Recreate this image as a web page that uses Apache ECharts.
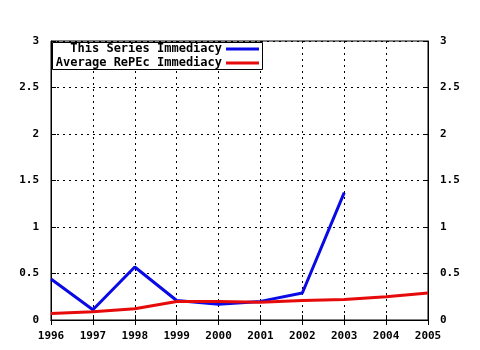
<!DOCTYPE html>
<html><head><meta charset="utf-8">
<script src="https://cdn.jsdelivr.net/npm/echarts@6/dist/echarts.min.js"></script>
<style>html,body{margin:0;padding:0;background:#fff}#c{width:480px;height:350px}</style>
</head><body><div id="c"></div>
<script>
var years = ['1996','1997','1998','1999','2000','2001','2002','2003','2004','2005'];
var seriesImmediacy = [0.44, 0.11, 0.57, 0.21, 0.17, 0.20, 0.29, 1.37, null, null];
var repecImmediacy = [0.07, 0.09, 0.12, 0.20, 0.20, 0.19, 0.21, 0.22, 0.25, 0.29];
var seriesNames = ['This Series Immediacy', 'Average RePEc Immediacy'];
var yTicks = ['0','0.5','1','1.5','2','2.5','3'];

var FONT = 'DejaVu Sans Mono';
var BLUE = '#0a0ae6', RED = '#e60a0a';
var chart = echarts.init(document.getElementById('c'));
var yLabel = function(v){ var s = String(Math.round(v*10)/10); return yTicks.indexOf(s) >= 0 ? s : ''; };
var axisCommon = {
  axisLine: {show: true, lineStyle: {color: '#000', width: 1}},
  axisTick: {show: true, inside: true, length: 5, lineStyle: {color: '#000'}},
  splitLine: {show: false}
};
chart.setOption({
  animation: false,
  backgroundColor: '#fff',
  grid: {left: 51, right: 52, top: 41, bottom: 30, show: true, borderColor: '#000', borderWidth: 1},
  xAxis: [
    Object.assign({type: 'category', data: years, boundaryGap: false, position: 'bottom',
      axisLabel: {color: '#000', fontFamily: FONT, fontWeight: 'bold', fontSize: 11, margin: 11, interval: 0},
      splitLine: {show: true, lineStyle: {color: '#000', type: [2, 4], width: 1}}
    }, {axisLine: axisCommon.axisLine, axisTick: {show: true, inside: true, length: 5, interval: 0, lineStyle: {color: '#000'}}}),
    {type: 'category', data: years, boundaryGap: false, position: 'top',
      axisLine: {show: true, lineStyle: {color: '#000'}},
      axisTick: {show: true, inside: true, length: 5, interval: 0, lineStyle: {color: '#000'}},
      axisLabel: {show: false}, splitLine: {show: false}}
  ],
  yAxis: [
    Object.assign({type: 'value', min: 0, max: 3, interval: 0.5, position: 'left',
      axisLabel: {color: '#000', fontFamily: FONT, fontWeight: 'bold', fontSize: 11, margin: 12, formatter: yLabel},
      splitLine: {show: true, lineStyle: {color: '#000', type: [2, 4], width: 1}}
    }, {axisLine: axisCommon.axisLine, axisTick: axisCommon.axisTick}),
    Object.assign({type: 'value', min: 0, max: 3, interval: 0.5, position: 'right',
      axisLabel: {color: '#000', fontFamily: FONT, fontWeight: 'bold', fontSize: 11, margin: 12, formatter: yLabel}
    }, axisCommon)
  ],
  series: [
    {name: seriesNames[0], type: 'line', data: seriesImmediacy, showSymbol: false, symbol: 'none',
     lineStyle: {color: BLUE, width: 3}, itemStyle: {color: BLUE}, z: 3},
    {name: seriesNames[1], type: 'line', data: repecImmediacy, showSymbol: false, symbol: 'none',
     lineStyle: {color: RED, width: 3}, itemStyle: {color: RED}, z: 4}
  ],
  graphic: [
    {type: 'rect', shape: {x: 52.5, y: 42.5, width: 210, height: 27}, style: {fill: '#fff', stroke: '#000', lineWidth: 1}, z: 10},
    {type: 'text', x: 222, y: 49, style: {text: seriesNames[0], align: 'right', verticalAlign: 'middle', fill: '#000', font: 'bold 12px "DejaVu Sans Mono"'}, z: 11},
    {type: 'text', x: 222, y: 63, style: {text: seriesNames[1], align: 'right', verticalAlign: 'middle', fill: '#000', font: 'bold 12px "DejaVu Sans Mono"'}, z: 11},
    {type: 'line', shape: {x1: 226, y1: 49, x2: 259, y2: 49}, style: {stroke: BLUE, lineWidth: 3}, z: 11},
    {type: 'line', shape: {x1: 226, y1: 63, x2: 259, y2: 63}, style: {stroke: RED, lineWidth: 3}, z: 11}
  ]
});
</script></body></html>
